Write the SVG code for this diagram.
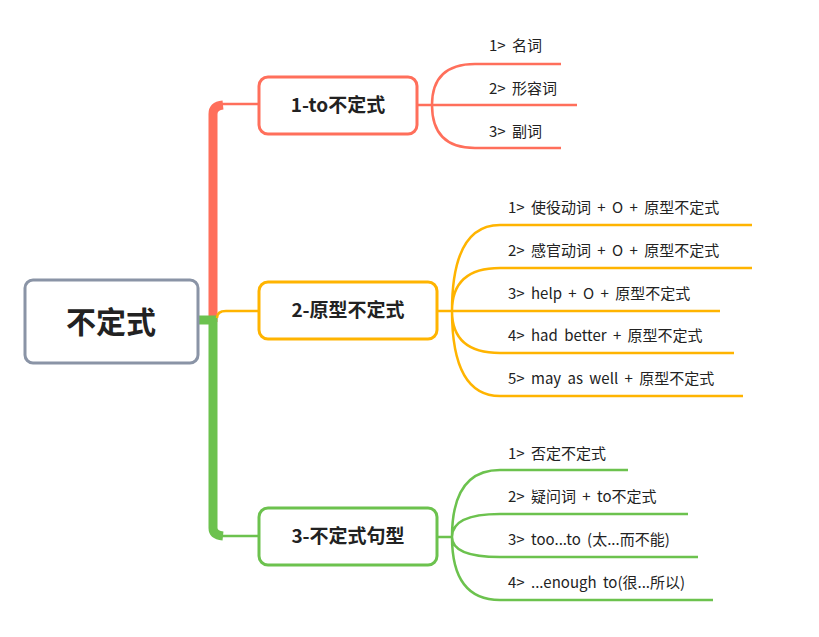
<svg xmlns="http://www.w3.org/2000/svg" width="819" height="637" viewBox="0 0 819 637">
<style>
text{font-family:"Noto Sans CJK SC","Noto Sans",sans-serif;fill:#222}
.leaf{font-size:15px;word-spacing:3px}
.main{font-size:19px;font-weight:bold}
.box{fill:#fff;stroke-width:3}
.l{fill:none;stroke-width:2.5}
.r{stroke:#FF6F5B}.y{stroke:#FFB400}.g{stroke:#6CC24E}
</style>
<rect width="819" height="637" fill="#fff"/>
<g id="connectors">
<path d="M222 104 H259" class="l r"/>
<path d="M213 322 V114 Q213 106 223 105" stroke="#FF6F5B" stroke-width="9" fill="none"/>
<path d="M213 316 V528 Q213 535 223 536" stroke="#6CC24E" stroke-width="9" fill="none"/>
<path d="M222 536 H259" class="l g"/>
<path d="M198 320 H217" stroke="#6CC24E" stroke-width="9"/>
<path d="M217 318 Q217 311 226 311 H259" class="l y"/>
<path d="M417 105 H432 M432 105 Q432 64 475 64 H561 M432 105 H577 M432 105 Q432 148 475 148 H561" class="l r"/>
<path d="M437 311 H452 M452 311 Q452 225 500 225 H752 M452 311 Q452 268 500 268 H752 M452 311 H720 M452 311 Q452 353 500 353 H734 M452 311 Q452 396 500 396 H743" class="l y"/>
<path d="M437 537 H452 M452 537 Q452 470 500 470 H628 M452 537 Q452 514 500 514 H688 M452 537 Q452 557 500 557 H698 M452 537 Q452 600 500 600 H713" class="l g"/>
</g>
<g id="root"><rect x="25" y="280" width="173" height="83" rx="8" fill="#fff" stroke="#8A94A6" stroke-width="3"/><text x="111" y="333" text-anchor="middle" style="font-size:30px;font-weight:bold">不定式</text></g>
<g id="n1"><rect x="259" y="77" width="158" height="57" rx="9" class="box r"/><text x="338" y="112" text-anchor="middle" class="main">1-to不定式</text></g>
<g id="n2"><rect x="259" y="282" width="178" height="57" rx="9" class="box y"/><text x="348" y="317" text-anchor="middle" class="main">2-原型不定式</text></g>
<g id="n3"><rect x="259" y="508" width="178" height="57" rx="9" class="box g"/><text x="348" y="543" text-anchor="middle" class="main">3-不定式句型</text></g>
<g id="leaves">
<text x="489" y="51" class="leaf">1&gt; 名词</text>
<text x="489" y="94" class="leaf">2&gt; 形容词</text>
<text x="489" y="137" class="leaf">3&gt; 副词</text>
<text x="508" y="213" class="leaf">1&gt; 使役动词 + O + 原型不定式</text>
<text x="508" y="256" class="leaf">2&gt; 感官动词 + O + 原型不定式</text>
<text x="508" y="299" class="leaf">3&gt; help + O + 原型不定式</text>
<text x="508" y="341" class="leaf">4&gt; had better + 原型不定式</text>
<text x="508" y="384" class="leaf">5&gt; may as well + 原型不定式</text>
<text x="508" y="459" class="leaf">1&gt; 否定不定式</text>
<text x="508" y="502" class="leaf">2&gt; 疑问词 + to不定式</text>
<text x="508" y="545" class="leaf">3&gt; too...to (太...而不能)</text>
<text x="508" y="588" class="leaf">4&gt; ...enough to(很...所以)</text>
</g>
</svg>
